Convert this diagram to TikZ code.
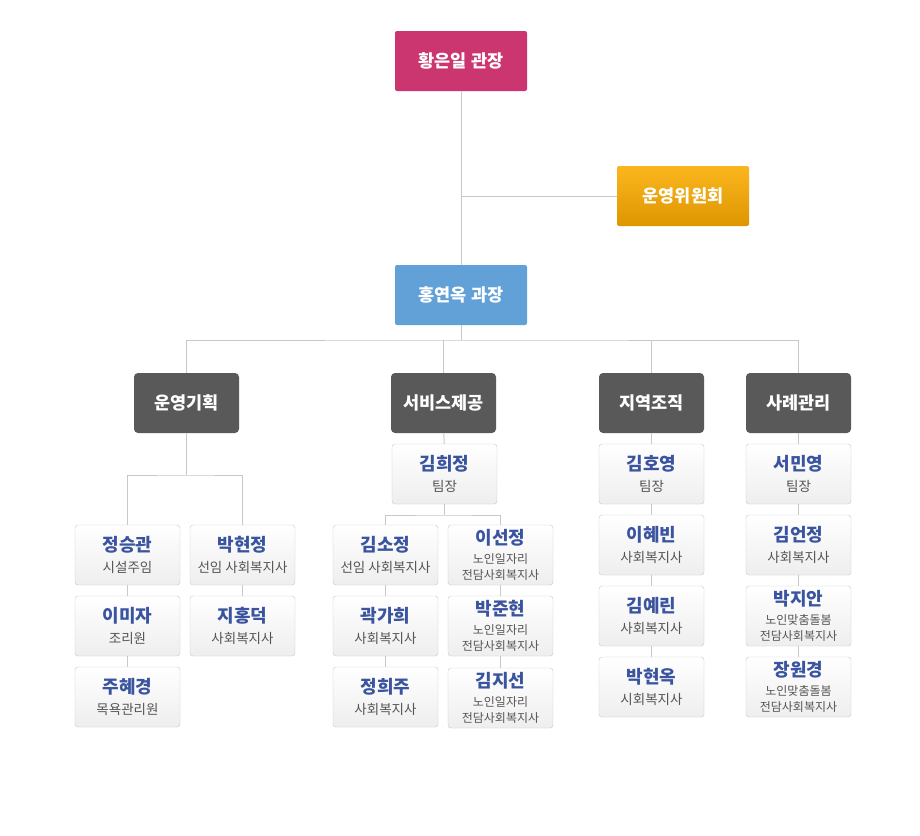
\documentclass[tikz,border=0pt]{standalone}
\usepackage{fontspec}
\setmainfont{Noto Sans CJK KR}
\usetikzlibrary{positioning}
\definecolor{mpink}{RGB}{204,54,112}
\definecolor{mgoldtop}{RGB}{251,182,30}
\definecolor{mgoldbot}{RGB}{222,150,0}
\definecolor{mblue}{RGB}{98,161,216}
\definecolor{mdark}{RGB}{89,89,89}
\definecolor{mline}{RGB}{200,200,200}
\definecolor{mfill}{RGB}{238,238,238}
\definecolor{mname}{RGB}{58,84,160}
\definecolor{mrole}{RGB}{85,85,85}
\tikzset{box/.style = {rounded corners=2pt, minimum width=132pt, minimum height=60pt,
                       inner sep=0pt, text=white, font=\fontsize{17.5}{20}\selectfont\bfseries}}
\tikzset{dept/.style = {box, fill=mdark, minimum width=105pt, rounded corners=4pt}}
\tikzset{member/.style = {draw=mline, rounded corners=3pt, top color=white, bottom color=mfill,
                          minimum width=105pt, minimum height=60pt, inner sep=0pt, align=center}}
\tikzset{link/.style = {draw=mline, line width=1pt}}
\newcommand{\staff}[2]{{\fontsize{18}{20}\selectfont\bfseries\color{mname}#1}\\[7pt]%
  {\fontsize{13.5}{14}\selectfont\color{mrole}#2}}
\newcommand{\stafftwo}[3]{{\fontsize{18}{20}\selectfont\bfseries\color{mname}#1}\\[6.5pt]%
  {\fontsize{12}{13}\selectfont\color{mrole}#2}\\[4pt]{\fontsize{12}{13}\selectfont\color{mrole}#3}}

\begin{document}
\begin{tikzpicture}[x=1pt, y=-1pt]
          \useasboundingbox [fill=white] (0, 0) rectangle (920, 835);
          % top
          \node [box, fill=mpink] (chief) at (461, 61) {황은일 관장};
          \node [box, top color=mgoldtop, bottom color=mgoldbot] (board) at (683, 196) {운영위원회};
          \node [box, fill=mblue] (manager) at (461, 295) {홍연옥 과장};

          % departments
          \node [dept] (plan) at (186.5, 403) {운영기획};
          \node [dept] (service) at (443.5, 403) {서비스제공};
          \node [dept] (local) at (651.5, 403) {지역조직};
          \node [dept] (case) at (798.5, 403) {사례관리};

          % 운영기획
          \node [member] (jsg) at (127.5, 555) {\staff{정승관}{시설주임}};
          \node [member] (imj) at (127.5, 626) {\staff{이미자}{조리원}};
          \node [member] (jhk) at (127.5, 697) {\staff{주혜경}{목욕관리원}};
          \node [member] (bhj) at (242.5, 555) {\staff{박현정}{선임 사회복지사}};
          \node [member] (jhd) at (242.5, 626) {\staff{지홍덕}{사회복지사}};

          % 서비스제공
          \node [member] (khj) at (444.5, 474) {\staff{김희정}{팀장}};
          \node [member] (ksj) at (385.5, 555) {\staff{김소정}{선임 사회복지사}};
          \node [member] (kgh) at (385.5, 626) {\staff{곽가희}{사회복지사}};
          \node [member] (jhj) at (385.5, 697) {\staff{정희주}{사회복지사}};
          \node [member] (lsj) at (500.5, 555) {\stafftwo{이선정}{노인일자리}{전담사회복지사}};
          \node [member] (bjh) at (500.5, 626) {\stafftwo{박준현}{노인일자리}{전담사회복지사}};
          \node [member] (kjs) at (500.5, 698) {\stafftwo{김지선}{노인일자리}{전담사회복지사}};

          % 지역조직
          \node [member] (kho) at (651.5, 474) {\staff{김호영}{팀장}};
          \node [member] (lhb) at (651.5, 545) {\staff{이혜빈}{사회복지사}};
          \node [member] (kyr) at (651.5, 616) {\staff{김예린}{사회복지사}};
          \node [member] (bho) at (651.5, 687) {\staff{박현옥}{시회복지사}};

          % 사례관리
          \node [member] (smy) at (798.5, 474) {\staff{서민영}{팀장}};
          \node [member] (kej) at (798.5, 545) {\staff{김언정}{사회복지사}};
          \node [member] (bja) at (798.5, 616) {\stafftwo{박지안}{노인맞춤돌봄}{전담사회복지사}};
          \node [member] (jwk) at (798.5, 687) {\stafftwo{장원경}{노인맞춤돌봄}{전담사회복지사}};

          % connectors
          \coordinate (bus) at (461, 340);
          \draw [link] (chief) -- (manager);
          \draw [link] (board.west) -- (board.west -| chief.south);
          \draw [link] (manager) -- (bus);
          \draw [link] (plan.north) |- (bus) -| (case.north);
          \draw [link] (service.north) -- (service.north |- bus);
          \draw [link] (local.north) -- (local.north |- bus);

          \coordinate (planbus) at (186.5, 475);
          \draw [link] (plan.south) -- (planbus);
          \draw [link] (jsg.north) |- (planbus) -| (bhj.north);
          \draw [link] (jsg) -- (imj);
          \draw [link] (imj) -- (jhk);
          \draw [link] (bhj) -- (jhd);

          \coordinate (servbus) at (444.5, 515);
          \draw [link] (service) -- (khj);
          \draw [link] (khj.south) -- (servbus);
          \draw [link] (ksj.north) |- (servbus) -| (lsj.north);
          \draw [link] (ksj) -- (kgh);
          \draw [link] (kgh) -- (jhj);
          \draw [link] (lsj) -- (bjh);
          \draw [link] (bjh) -- (kjs);

          \draw [link] (local) -- (kho);
          \draw [link] (kho) -- (lhb);
          \draw [link] (lhb) -- (kyr);
          \draw [link] (kyr) -- (bho);

          \draw [link] (case) -- (smy);
          \draw [link] (smy) -- (kej);
          \draw [link] (kej) -- (bja);
          \draw [link] (bja) -- (jwk);
        \end{tikzpicture}
\end{document}
